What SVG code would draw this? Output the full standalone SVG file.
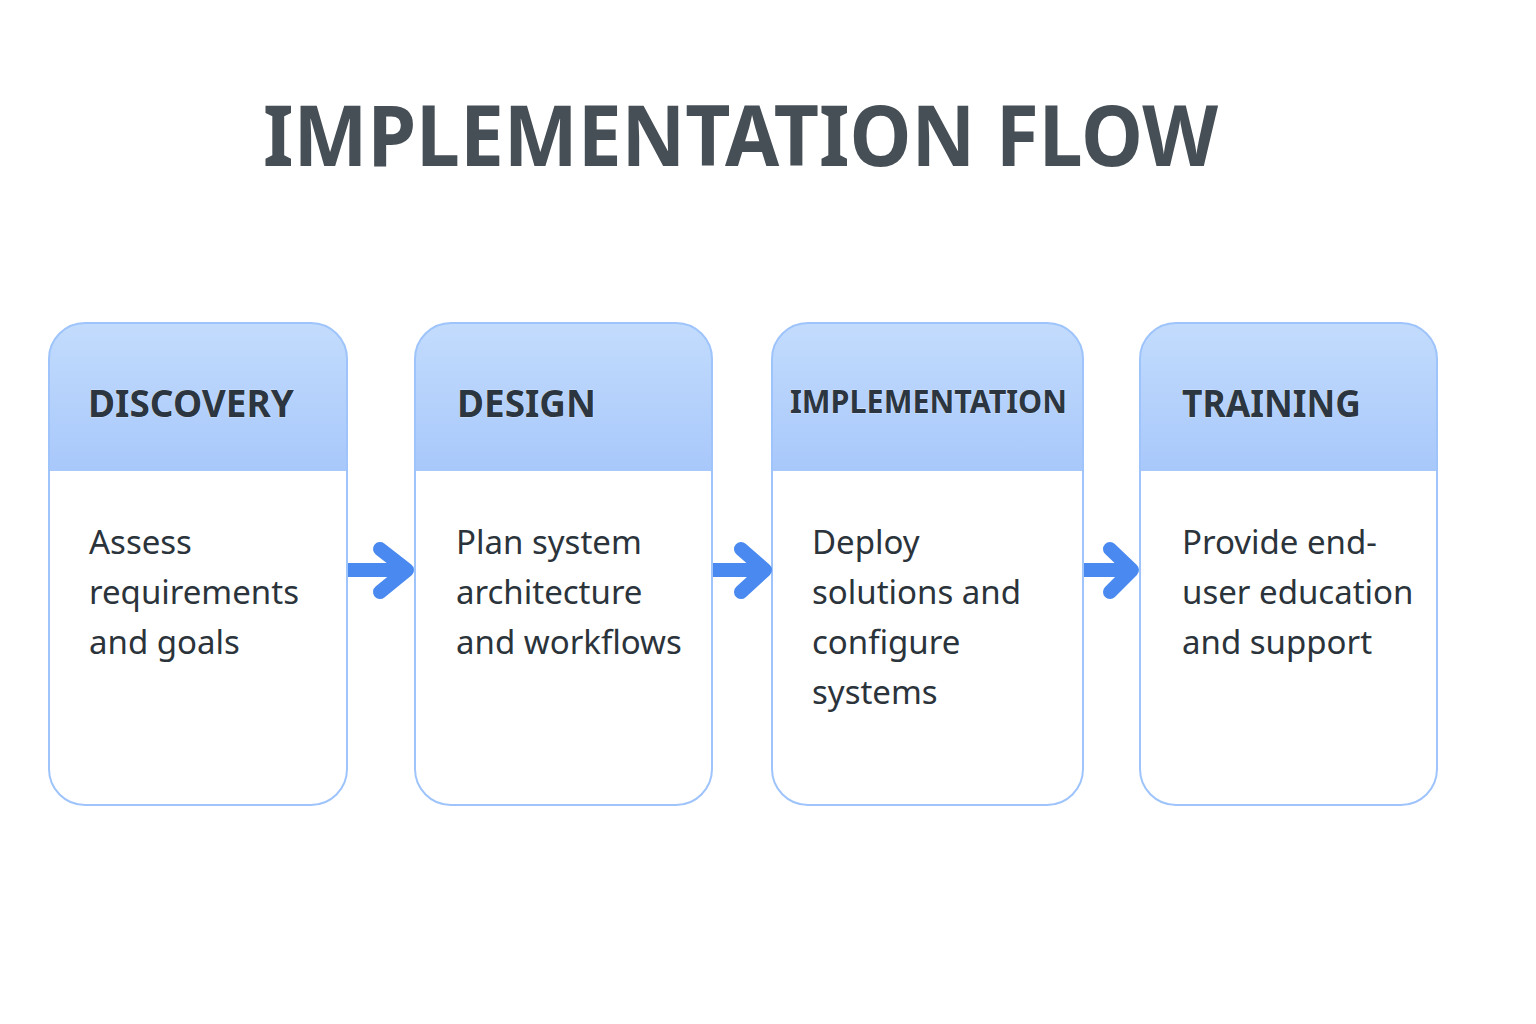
<svg xmlns="http://www.w3.org/2000/svg" width="1536" height="1024" viewBox="0 0 1536 1024">
<defs>
<linearGradient id="hg" x1="0" y1="0" x2="0" y2="1">
<stop offset="0" stop-color="#c3dcfd"/>
<stop offset="1" stop-color="#a8c8fb"/>
</linearGradient>
<style>
.title{font-family:"Noto Sans","Open Sans",sans-serif;font-weight:700;font-size:84px;fill:#474f56}
.head{font-family:"Noto Sans","Open Sans",sans-serif;font-weight:700;font-size:37px;fill:#2c3640;stroke:#e8f0ff;stroke-width:0.6px;paint-order:stroke}
.body{font-family:"Noto Sans","Open Sans",sans-serif;font-size:33px;fill:#2b333b}
.border{fill:none;stroke:#9ec4fb;stroke-width:2}
.arrow{fill:none;stroke:#4a8af0;stroke-width:14;stroke-linecap:round;stroke-linejoin:round}
.shaft{fill:none;stroke:#4a8af0;stroke-width:14}
</style>
</defs>
<rect width="1536" height="1024" fill="#ffffff"/>
<text class="title" x="263" y="166" textLength="955" lengthAdjust="spacingAndGlyphs">IMPLEMENTATION FLOW</text>

<g id="node-discovery">
<rect x="49" y="323" width="298" height="482" rx="36" fill="#ffffff"/>
<path d="M49 471 V359 A36 36 0 0 1 85 323 H311 A36 36 0 0 1 347 359 V471 Z" fill="url(#hg)"/>
<rect class="border" x="49" y="323" width="298" height="482" rx="36"/>
<text class="head" x="88" y="417" textLength="206" lengthAdjust="spacingAndGlyphs">DISCOVERY</text>
<text class="body" x="89" y="554">Assess</text>
<text class="body" x="89" y="604">requirements</text>
<text class="body" x="89" y="654">and goals</text>
</g>

<g id="node-design">
<rect x="415" y="323" width="297" height="482" rx="36" fill="#ffffff"/>
<path d="M415 471 V359 A36 36 0 0 1 451 323 H676 A36 36 0 0 1 712 359 V471 Z" fill="url(#hg)"/>
<rect class="border" x="415" y="323" width="297" height="482" rx="36"/>
<text class="head" x="457" y="417" textLength="139" lengthAdjust="spacingAndGlyphs">DESIGN</text>
<text class="body" x="456" y="554">Plan system</text>
<text class="body" x="456" y="604">architecture</text>
<text class="body" x="456" y="654">and workflows</text>
</g>

<g id="node-implementation">
<rect x="772" y="323" width="311" height="482" rx="36" fill="#ffffff"/>
<path d="M772 471 V359 A36 36 0 0 1 808 323 H1047 A36 36 0 0 1 1083 359 V471 Z" fill="url(#hg)"/>
<rect class="border" x="772" y="323" width="311" height="482" rx="36"/>
<text class="head" x="790" y="413" style="font-size:33px" textLength="277" lengthAdjust="spacingAndGlyphs">IMPLEMENTATION</text>
<text class="body" x="812" y="554">Deploy</text>
<text class="body" x="812" y="604">solutions and</text>
<text class="body" x="812" y="654">configure</text>
<text class="body" x="812" y="704">systems</text>
</g>

<g id="node-training">
<rect x="1140" y="323" width="297" height="482" rx="36" fill="#ffffff"/>
<path d="M1140 471 V359 A36 36 0 0 1 1176 323 H1401 A36 36 0 0 1 1437 359 V471 Z" fill="url(#hg)"/>
<rect class="border" x="1140" y="323" width="297" height="482" rx="36"/>
<text class="head" x="1182" y="417" textLength="179" lengthAdjust="spacingAndGlyphs">TRAINING</text>
<text class="body" x="1182" y="554">Provide end-</text>
<text class="body" x="1182" y="604">user education</text>
<text class="body" x="1182" y="654">and support</text>
</g>

<g id="connectors">
<line class="shaft" x1="348" y1="570" x2="404" y2="570"/>
<polyline class="arrow" points="380,549 407,570 380,592"/>
<line class="shaft" x1="713" y1="570" x2="762" y2="570"/>
<polyline class="arrow" points="741,549 765,570 741,592"/>
<line class="shaft" x1="1084" y1="570" x2="1130" y2="570"/>
<polyline class="arrow" points="1110,549 1132,570 1110,592"/>
</g>
</svg>
